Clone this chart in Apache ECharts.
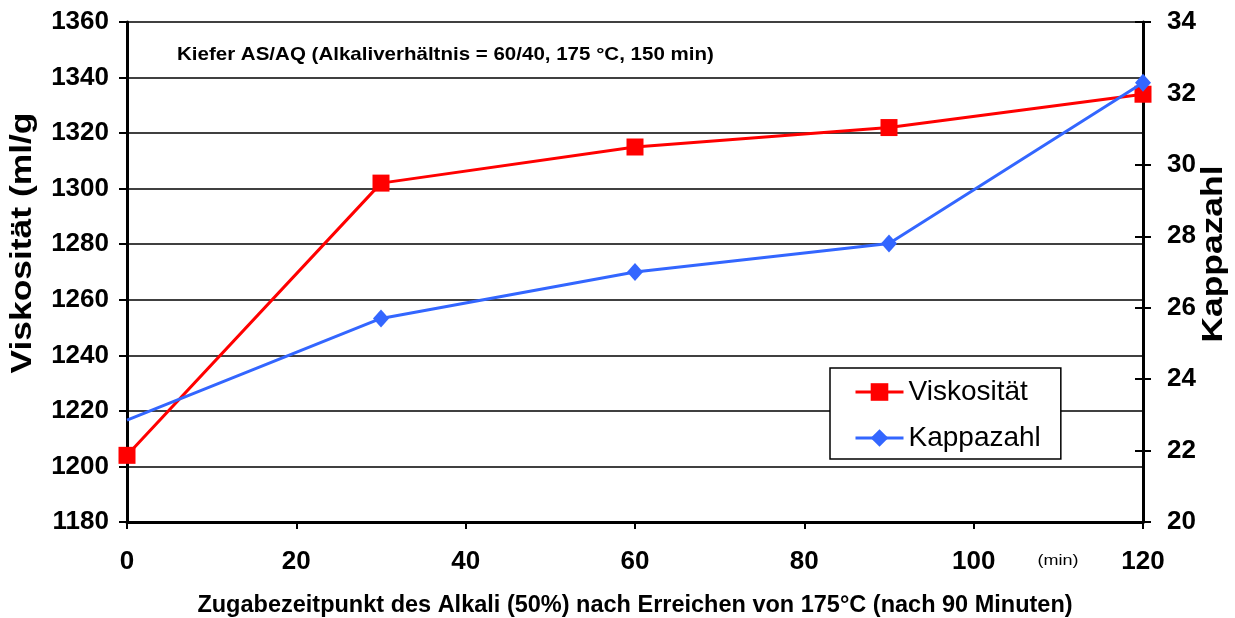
<!DOCTYPE html>
<html>
<head>
<meta charset="utf-8">
<script src="https://cdn.jsdelivr.net/npm/echarts@6/dist/echarts.min.js"></script>
<style>
  html, body { margin: 0; padding: 0; background: #fff; }
  #chart { width: 1235px; height: 618px; }
</style>
</head>
<body>
<div id="chart"></div>
<script>
// Addition time of alkali (min after reaching 175 °C)
const times = [0, 30, 60, 90, 120];
// Viscosity (ml/g)
const viskositaet = [1204, 1302, 1315, 1322, 1334];
// Kappa number
const kappazahl = [22.85, 25.7, 27.0, 27.8, 32.3];

const leftTicks = { min: 1180, max: 1360, interval: 20 };
const rightTicks = { min: 20, max: 34, interval: 2 };
const xTicks = { min: 0, max: 120, interval: 20 };

const FONT = 'Liberation Sans, Arial, sans-serif';

const chart = echarts.init(document.getElementById('chart'), null, { renderer: 'canvas' });

const viskData = times.map((t, i) => [t, viskositaet[i]]);
// the first kappa point sits on the axis and shows no marker
const kappaData = times.map((t, i) => i === 0
  ? { value: [t, kappazahl[i]], symbol: 'none' }
  : [t, kappazahl[i]]);

const labelStyle = { color: '#000', fontFamily: FONT, fontWeight: 'bold', fontSize: 26 };

chart.setOption({
  animation: false,
  backgroundColor: '#fff',
  grid: { left: 127, right: 92, top: 22, bottom: 96, containLabel: false, outerBoundsMode: 'none' },
  xAxis: {
    type: 'value',
    min: xTicks.min, max: xTicks.max, interval: xTicks.interval,
    axisLine: { show: true, onZero: false, lineStyle: { color: '#000', width: 3 } },
    axisTick: { show: true, inside: false, length: 7, lineStyle: { color: '#000', width: 2 } },
    axisLabel: Object.assign({ margin: 27 }, labelStyle),
    splitLine: { show: false },
    name: 'Zugabezeitpunkt des Alkali (50%) nach Erreichen von 175°C (nach 90 Minuten)',
    nameLocation: 'middle', nameGap: 72,
    nameTextStyle: { color: '#000', fontFamily: FONT, fontWeight: 'bold', fontSize: 23.5 }
  },
  yAxis: [
    {
      type: 'value', position: 'left',
      min: leftTicks.min, max: leftTicks.max, interval: leftTicks.interval,
      axisLine: { show: true, lineStyle: { color: '#000', width: 3 } },
      axisTick: { show: true, inside: false, length: 8, lineStyle: { color: '#000', width: 2 } },
      axisLabel: Object.assign({ margin: 18, formatter: v => String(v) }, labelStyle),
      splitLine: { show: true, lineStyle: { color: '#000', width: 1.5 } }
    },
    {
      type: 'value', position: 'right',
      min: rightTicks.min, max: rightTicks.max, interval: rightTicks.interval,
      axisLine: { show: true, lineStyle: { color: '#000', width: 3 } },
      axisTick: { show: false },
      axisLabel: Object.assign({ margin: 24 }, labelStyle),
      splitLine: { show: false }
    },
    {
      // ticks crossing the right axis line
      type: 'value', position: 'right', offset: -8,
      min: rightTicks.min, max: rightTicks.max, interval: rightTicks.interval,
      axisLine: { show: false },
      axisTick: { show: true, inside: false, length: 16, lineStyle: { color: '#000', width: 2 } },
      axisLabel: { show: false },
      splitLine: { show: false }
    }
  ],
  legend: {
    left: 830, top: 368,
    orient: 'vertical',
    backgroundColor: '#fff',
    borderColor: '#000', borderWidth: 1.5,
    padding: [10, 20, 7, 24],
    itemGap: 18,
    itemWidth: 48, itemHeight: 22,
    lineStyle: { width: 3 },
    textStyle: { color: '#000', fontFamily: FONT, fontSize: 28 },
    data: ['Viskosität', 'Kappazahl']
  },
  series: [
    {
      name: 'Viskosität', type: 'line', yAxisIndex: 0,
      data: viskData,
      symbol: 'rect', symbolSize: 17,
      lineStyle: { color: '#ff0000', width: 3 },
      itemStyle: { color: '#ff0000' },
      z: 3
    },
    {
      name: 'Kappazahl', type: 'line', yAxisIndex: 1,
      data: kappaData,
      symbol: 'diamond', symbolSize: [16, 18],
      lineStyle: { color: '#3366ff', width: 3 },
      itemStyle: { color: '#3366ff' },
      z: 4
    }
  ],
  graphic: [
    {
      type: 'text', x: 177, y: 55, scaleX: 1.08,
      style: {
        text: 'Kiefer AS/AQ (Alkaliverhältnis = 60/40, 175 °C, 150 min)',
        fill: '#000', font: 'bold 19px ' + FONT,
        align: 'left', verticalAlign: 'middle'
      }
    },
    {
      type: 'text', x: 1058, y: 561, scaleX: 1.2,
      style: {
        text: '(min)', fill: '#000', font: '15px ' + FONT,
        align: 'center', verticalAlign: 'middle'
      }
    },
    {
      type: 'text', x: 23, y: 243, rotation: Math.PI / 2, scaleX: 1.22,
      style: {
        text: 'Viskosität (ml/g', fill: '#000', font: 'bold 29px ' + FONT,
        align: 'center', verticalAlign: 'middle'
      }
    },
    {
      type: 'text', x: 1214, y: 254, rotation: Math.PI / 2, scaleX: 1.22,
      style: {
        text: 'Kappazahl', fill: '#000', font: 'bold 29px ' + FONT,
        align: 'center', verticalAlign: 'middle'
      }
    }
  ]
});
</script>
</body>
</html>
